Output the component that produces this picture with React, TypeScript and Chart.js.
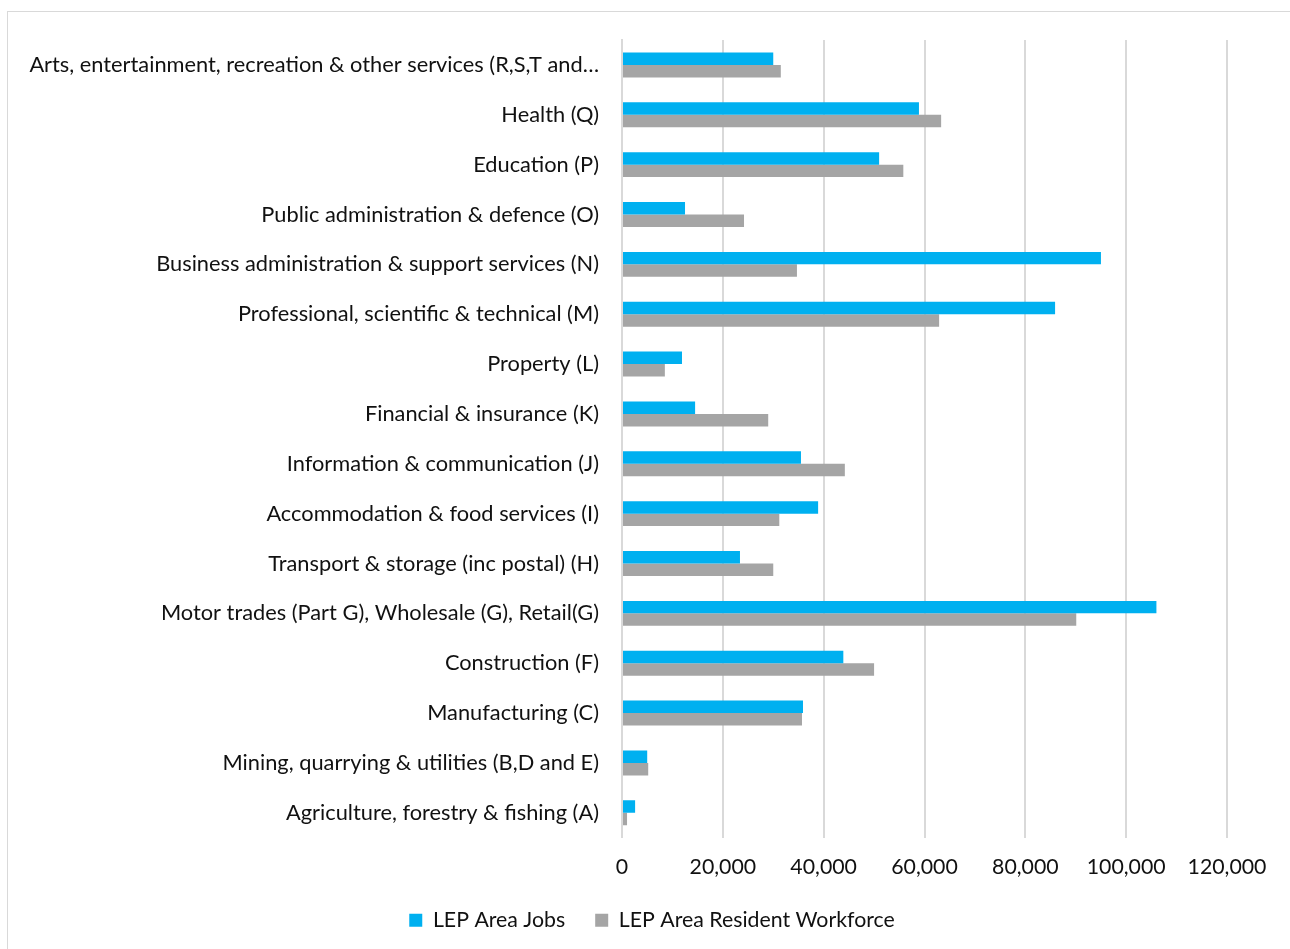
import React, { useEffect, useRef } from "react";
import { Chart, registerables } from "chart.js";

Chart.register(...registerables);

const categories = [
  "Arts, entertainment, recreation & other services (R,S,T and…",
  "Health (Q)",
  "Education (P)",
  "Public administration & defence (O)",
  "Business administration & support services (N)",
  "Professional, scientific & technical (M)",
  "Property (L)",
  "Financial & insurance (K)",
  "Information & communication (J)",
  "Accommodation & food services (I)",
  "Transport & storage (inc postal) (H)",
  "Motor trades (Part G), Wholesale (G), Retail(G)",
  "Construction (F)",
  "Manufacturing (C)",
  "Mining, quarrying & utilities (B,D and E)",
  "Agriculture, forestry & fishing (A)",
];

const lepAreaJobs = [
  30000, 58900, 51000, 12500, 95000, 85900, 11900, 14500, 35500, 38900, 23400,
  106000, 43900, 35900, 5000, 2600,
];

const lepAreaResidentWorkforce = [
  31500, 63300, 55800, 24200, 34700, 62900, 8500, 29000, 44200, 31200, 30000,
  90100, 50000, 35700, 5200, 1000,
];

const seriesNames = ["LEP Area Jobs", "LEP Area Resident Workforce"];
const FONT = "Lato, 'Open Sans', sans-serif";

export default function App() {
  const ref = useRef<HTMLCanvasElement | null>(null);

  useEffect(() => {
    if (!ref.current) return;
    const borderPlugin = {
      id: "frame",
      beforeDraw(chart: any) {
        const ctx = chart.ctx;
        ctx.save();
        ctx.fillStyle = "#ffffff";
        ctx.fillRect(0, 0, chart.width, chart.height);
        ctx.strokeStyle = "#d9d9d9";
        ctx.lineWidth = 1;
        ctx.strokeRect(7.5, 11.5, chart.width + 10, chart.height + 10);
        ctx.restore();
      },
    };
    const chart = new Chart(ref.current, {
      type: "bar",
      data: {
        labels: categories,
        datasets: [
          {
            label: seriesNames[0],
            data: lepAreaJobs,
            backgroundColor: "#00B0F0",
            categoryPercentage: 0.5,
            barPercentage: 1,
          },
          {
            label: seriesNames[1],
            data: lepAreaResidentWorkforce,
            backgroundColor: "#A5A5A5",
            categoryPercentage: 0.5,
            barPercentage: 1,
          },
        ],
      },
      options: {
        indexAxis: "y",
        animation: false,
        responsive: false,
        maintainAspectRatio: false,
        layout: { padding: { left: 14, right: 0, top: 40, bottom: 8 } },
        plugins: {
          tooltip: { enabled: false },
          legend: {
            position: "bottom",
            labels: {
              font: { family: FONT, size: 21.3 },
              color: "#111111",
              boxWidth: 13,
              boxHeight: 13,
              padding: 30,
            },
          },
        },
        scales: {
          x: {
            min: 0,
            max: 120000,
            ticks: {
              stepSize: 20000,
              font: { family: FONT, size: 21.3 },
              color: "#111111",
              padding: 17,
              callback: (v: any) => Number(v).toLocaleString("en-US"),
              maxRotation: 0,
            },
            grid: { color: "#d9d9d9", lineWidth: 2, drawTicks: false },
            border: { display: false },
            afterFit: (s: any) => {
              s.height = 42;
            },
          },
          y: {
            ticks: {
              font: { family: FONT, size: 21.8 },
              color: "#111111",
              padding: 23,
              autoSkip: false,
            },
            grid: { display: false, drawTicks: false },
            border: { display: true, color: "#d9d9d9", width: 2 },
            afterFit: (s: any) => {
              s.width = 608;
            },
          },
          y2: {
            type: "linear",
            position: "right",
            display: true,
            ticks: { display: false },
            grid: { display: false, drawTicks: false },
            border: { display: false },
            afterFit: (s: any) => {
              s.width = 63;
            },
          },
        },
      },
      plugins: [borderPlugin],
    } as any);
    return () => chart.destroy();
  }, []);

  return (
    <div style={{ position: "fixed", left: 0, top: 0, width: 1290, height: 949 }}>
      <canvas ref={ref} width={1290} height={949} style={{ width: 1290, height: 949 }} />
    </div>
  );
}
